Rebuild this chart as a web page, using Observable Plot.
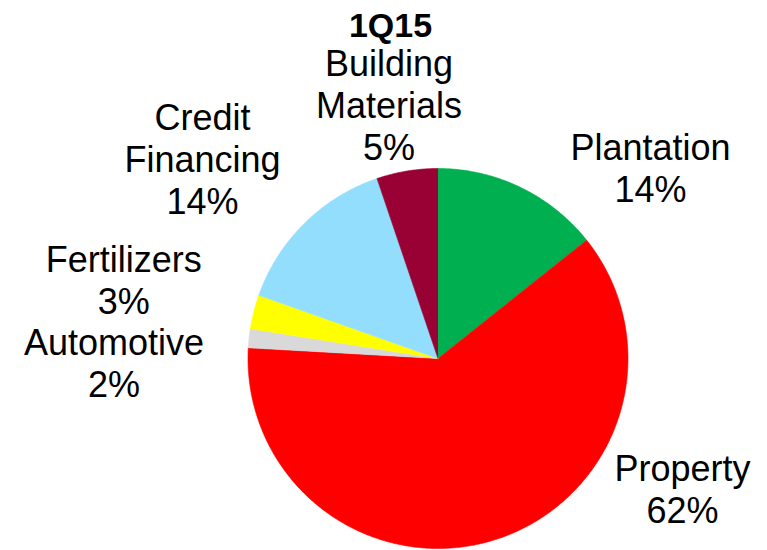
<!DOCTYPE html>
<html>
<head>
<meta charset="utf-8">
<script src="https://cdn.jsdelivr.net/npm/d3@7"></script>
<script src="https://cdn.jsdelivr.net/npm/@observablehq/plot@0.6"></script>
<style>
  html, body { margin: 0; padding: 0; background: #fff; }
  #chart { width: 767px; height: 550px; }
</style>
</head>
<body>
<div id="chart"></div>
<script>
// ---- data ----
const title = "1Q15";
const names = ["Plantation", "Property", "Automotive", "Fertilizers", "Credit Financing", "Building Materials"];
const labelNames = ["Plantation", "Property", "Automotive", "Fertilizers", "Credit\nFinancing", "Building\nMaterials"];
const values = [14.3, 61.6, 1.6, 2.9, 14.4, 5.2];
const colors = ["#00b050", "#ff0000", "#d9d9d9", "#ffff00", "#93ddfd", "#990033"];
// label nudges (pixels) from the slice's outer mid-point
const labelNudgeX = [130, 187, -135, -130, -102, -18];
const labelNudgeY = [-20, -51, 24, -32, -65, -66];

// ---- layout ----
const W = 767, H = 550, R = 190, cx = 437.5, cy = 358;
const font = "'Liberation Sans', Arial, Helvetica, sans-serif";

const arcs = d3.pie().sort(null).value(d => d)(values);
const total = d3.sum(values);

const polys = [];
arcs.forEach((a, i) => {
  polys.push({name: names[i], x: 0, y: 0});
  const n = Math.max(4, Math.ceil((a.endAngle - a.startAngle) / (Math.PI / 360)));
  for (let k = 0; k <= n; k++) {
    const t = a.startAngle + (a.endAngle - a.startAngle) * k / n;
    polys.push({name: names[i], x: Math.sin(t), y: Math.cos(t)});
  }
});

const labels = arcs.map((a, i) => {
  const m = (a.startAngle + a.endAngle) / 2;
  return {
    text: labelNames[i] + "\n" + Math.round(values[i] / total * 100 + 1e-9) + "%",
    x: Math.sin(m) + labelNudgeX[i] / R,
    y: Math.cos(m) - labelNudgeY[i] / R
  };
});

const chart = Plot.plot({
  width: W,
  height: H,
  margin: 0,
  style: {fontFamily: font, background: "#fff"},
  x: {domain: [-cx / R, (W - cx) / R], axis: null},
  y: {domain: [-(H - cy) / R, cy / R], axis: null},
  color: {domain: names, range: colors},
  marks: [
    Plot.line(polys, {x: "x", y: "y", z: "name", fill: "name", stroke: "name", strokeWidth: 0.6, curve: "linear"}),
    Plot.text(labels, {x: "x", y: "y", text: "text", fontSize: 36, lineHeight: 1.167, fill: "#000", textAnchor: "middle", fontFamily: font}),
    Plot.text([title], {frameAnchor: "top", dx: 6.5, dy: 12, fontSize: 34, fontWeight: "bold", fill: "#000", fontFamily: font})
  ]
});
document.getElementById("chart").appendChild(chart);
</script>
</body>
</html>
